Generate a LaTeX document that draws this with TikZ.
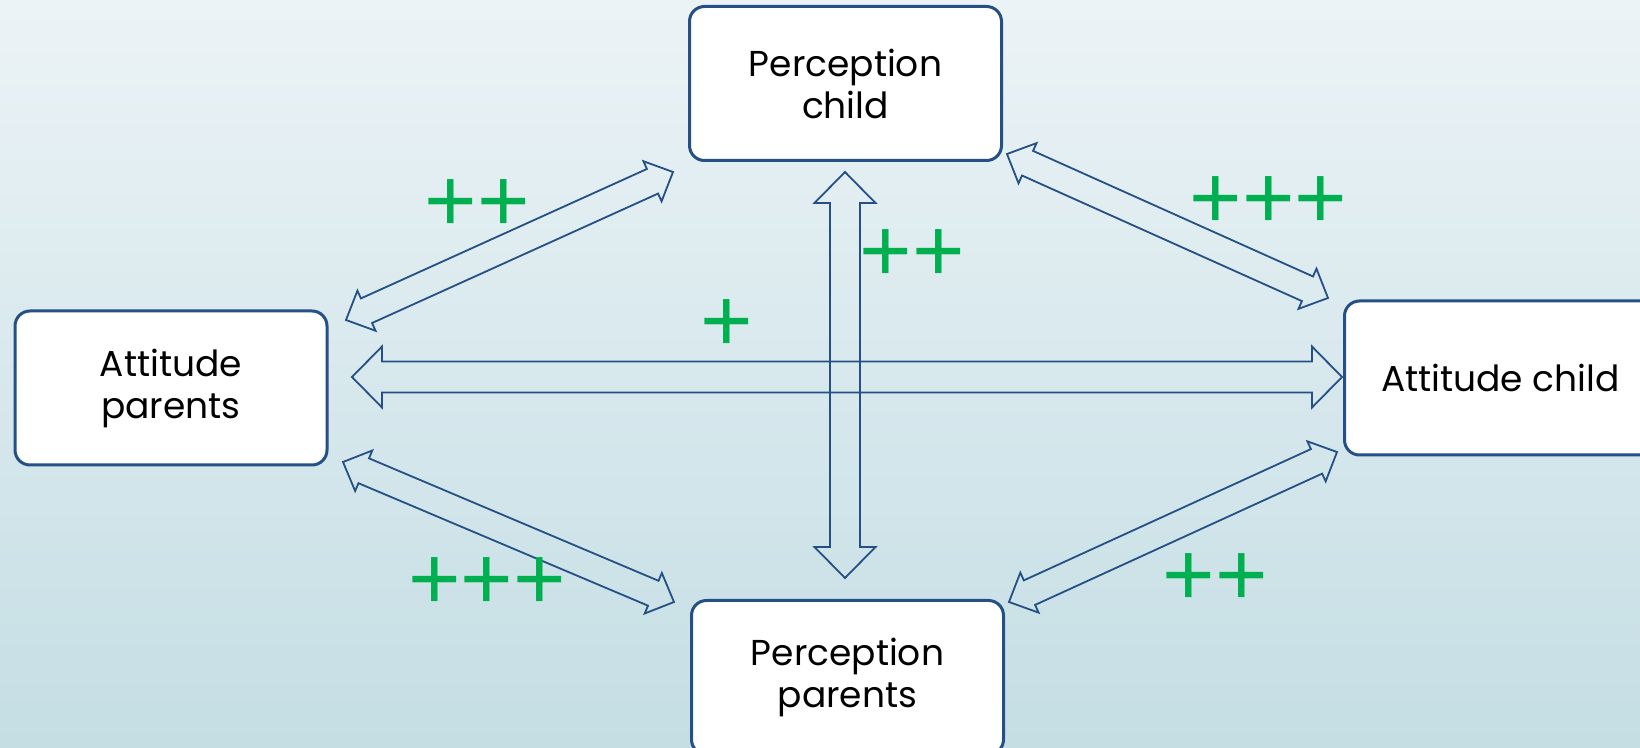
\documentclass[tikz,border=0pt]{standalone}
\usepackage{fontspec}
\setmainfont{Poppins}
\newfontfamily\plusfont{Liberation Sans}
\usetikzlibrary{calc}

\definecolor{boxblue}{RGB}{36,80,134}
\definecolor{plusgreen}{RGB}{0,176,80}
\definecolor{bgtop}{RGB}{236,243,246}
\definecolor{bgbottom}{RGB}{196,222,228}

% hollow two-headed arrow: from, to, shaft half width, head half width, head length
\newcommand{\hollowarrow}[5]{%
  \coordinate (ha) at ($(#1)!#5!(#2)$);
  \coordinate (hb) at ($(#2)!#5!(#1)$);
  \draw[arrowline] (#1) -- ($(ha)!#4!90:(#2)$) -- ($(ha)!#3!90:(#2)$)
    -- ($(hb)!#3!-90:(#1)$) -- ($(hb)!#4!-90:(#1)$) -- (#2)
    -- ($(hb)!#4!90:(#1)$) -- ($(hb)!#3!90:(#1)$)
    -- ($(ha)!#3!-90:(#2)$) -- ($(ha)!#4!-90:(#2)$) -- cycle;
}

\begin{document}
\begin{tikzpicture}[x=0.5pt,y=-0.5pt,
  box/.style={draw=boxblue,line width=1.5pt,fill=white,rounded corners=7.5pt,
    minimum width=156pt,minimum height=77pt,align=center,inner sep=0pt,
    font=\fontsize{18}{21}\selectfont},
  arrowline/.style={draw=boxblue,line width=0.9pt,line join=miter},
  plus/.style={text=plusgreen,inner sep=0pt,font=\plusfont\fontsize{45}{45}\selectfont}]

% Background
\shade[top color=bgtop,bottom color=bgbottom] (0,0) rectangle (1640,748);
\useasboundingbox (0,0) rectangle (1640,748);

% Boxes
\node[box] (pchild) at (845.5,83.5) {Perception\\child};
\node[box] (aparents) at (171,388) {Attitude\\parents};
\node[box] (achild) at (1500.5,378) {Attitude child};
\node[box] (pparents) at (847.5,677.5) {Perception\\parents};

% Arrow ends
\coordinate (ap-pc) at (346,320);   \coordinate (pc-ap) at (673,172);
\coordinate (pc-ac) at (1007,154);  \coordinate (ac-pc) at (1328,298);
\coordinate (ap-pp) at (343,462);   \coordinate (pp-ap) at (674,602);
\coordinate (pp-ac) at (1009,602);  \coordinate (ac-pp) at (1337,452);
\coordinate (ap-ac) at (352,377);   \coordinate (ac-ap) at (1342,377);
\coordinate (pc-pp) at (845,172);   \coordinate (pp-pc) at (845,578);

% Arrows
\hollowarrow{ap-pc}{pc-ap}{6.75pt}{11pt}{11.25pt}
\hollowarrow{pc-ac}{ac-pc}{6.75pt}{11pt}{11.25pt}
\hollowarrow{ap-pp}{pp-ap}{6.75pt}{11pt}{11.25pt}
\hollowarrow{pp-ac}{ac-pp}{6.75pt}{11pt}{11.25pt}
\hollowarrow{ap-ac}{ac-ap}{7.75pt}{15.25pt}{15pt}
\hollowarrow{pc-pp}{pp-pc}{7.5pt}{15.25pt}{15.5pt}

% Strengths
\node[plus] (plA) at (477,206) {++};
\node[plus] (plB) at (912,256) {++};
\node[plus] (plC) at (1268.5,202.5) {+++};
\node[plus] (plD) at (726.5,325.5) {+};
\node[plus] (plE) at (487,583.5) {+++};
\node[plus] (plF) at (1215,580) {++};
\end{tikzpicture}
\end{document}
